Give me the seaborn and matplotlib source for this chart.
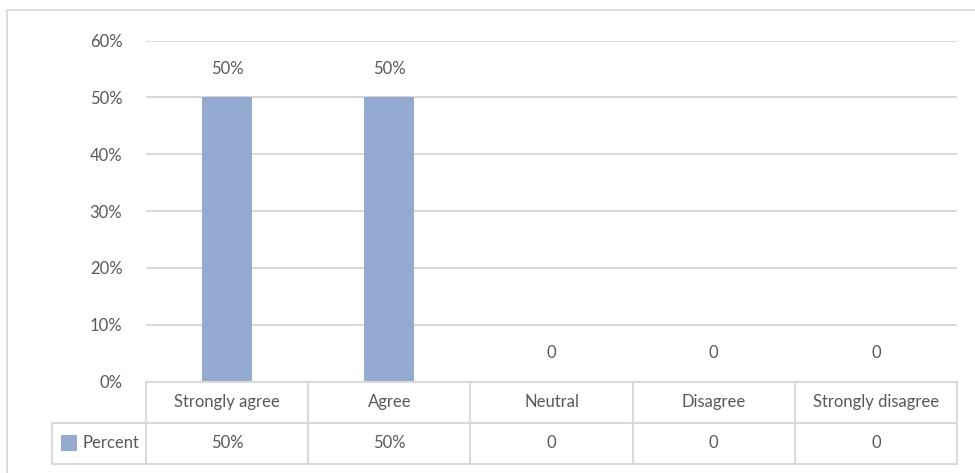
import matplotlib
matplotlib.use("Agg")
import matplotlib.pyplot as plt
import matplotlib.transforms as mtransforms
from matplotlib.patches import Rectangle
from matplotlib.lines import Line2D
import seaborn as sns
import pandas as pd

categories = ["Strongly agree", "Agree", "Neutral", "Disagree", "Strongly disagree"]
percent = [0.50, 0.50, 0.0, 0.0, 0.0]
series_name = "Percent"
y_ticks = [0.0, 0.1, 0.2, 0.3, 0.4, 0.5, 0.6]

BAR = "#95AAD0"
GRID = "#D9D9D9"
TEXT = "#595959"
FS = 12


def fmt(v):
    return "0" if v == 0 else f"{v:.0%}"


sns.set_theme(style="white")
plt.rcParams["font.family"] = ["Lato", "DejaVu Sans"]

W, H = 975, 473
fig = plt.figure(figsize=(W / 100, H / 100), dpi=100)

# chart frame
fig.patches.append(Rectangle((7 / W, -0.1), 1.2, (H - 10) / H + 0.1,
                             transform=fig.transFigure, fill=False,
                             edgecolor=GRID, linewidth=1.3))

left, right, top, bottom = 146, 957, 40.7, 381.5
ax = fig.add_axes([left / W, (H - bottom) / H, (right - left) / W, (bottom - top) / H])

df = pd.DataFrame({"category": categories, "value": percent})
sns.barplot(data=df, x="category", y="value", color=BAR, width=0.31,
            saturation=1, linewidth=0, ax=ax)

ax.set_xlim(-0.5, len(categories) - 0.5)
ax.set_ylim(0, 0.6)
ax.set_yticks(y_ticks)
ax.set_yticklabels([f"{t:.0%}" for t in y_ticks], color=TEXT, fontsize=FS)
ax.tick_params(axis="y", length=0, pad=17)
ax.set_xticks([])
ax.set_xlabel("")
ax.set_ylabel("")
for s in ax.spines.values():
    s.set_visible(False)
ax.yaxis.grid(True, color=GRID, linewidth=1.5)
ax.set_axisbelow(True)

# value labels above bars
for i, v in enumerate(percent):
    ax.annotate(fmt(v), (i, v), xytext=(0, 29), textcoords="offset pixels",
                ha="center", va="center", color=TEXT, fontsize=FS)

# data table below the plot
trans = mtransforms.blended_transform_factory(ax.transData, ax.transAxes)
ax_h = bottom - top
row_h = 41 / ax_h
unit_px = (right - left) / len(categories)
legend_x0 = -0.5 - (left - 52) / unit_px
n = len(categories)

def hline(x0, x1, y):
    ax.add_line(Line2D([x0, x1], [y, y], transform=trans, color=GRID,
                       linewidth=1.5, clip_on=False))

def vline(x, y0, y1):
    ax.add_line(Line2D([x, x], [y0, y1], transform=trans, color=GRID,
                       linewidth=1.5, clip_on=False))

hline(-0.5, n - 0.5, 0)
hline(legend_x0, n - 0.5, -row_h)
hline(legend_x0, n - 0.5, -2 * row_h)
for k in range(n + 1):
    vline(k - 0.5, 0, -2 * row_h)
vline(legend_x0, -row_h, -2 * row_h)

for i, (c, v) in enumerate(zip(categories, percent)):
    ax.text(i, -row_h / 2, c, transform=trans, ha="center", va="center",
            color=TEXT, fontsize=FS)
    ax.text(i, -1.5 * row_h, fmt(v), transform=trans, ha="center", va="center",
            color=TEXT, fontsize=FS)

# legend key inside the table
sq = 16 / unit_px
key_x = -0.5 - (left - 61) / unit_px
ax.add_patch(Rectangle((key_x, -1.5 * row_h - 8 / ax_h), sq, 16 / ax_h,
                       transform=trans, facecolor=BAR, edgecolor="none",
                       clip_on=False))
ax.text(-0.5 - (left - 83) / unit_px, -1.5 * row_h, series_name, transform=trans,
        ha="left", va="center", color=TEXT, fontsize=FS)

fig.savefig("out.png", dpi=100)
